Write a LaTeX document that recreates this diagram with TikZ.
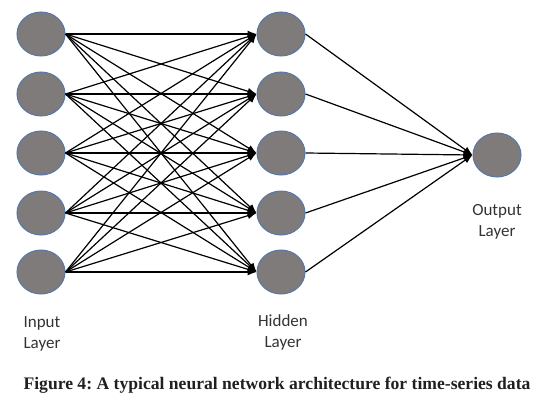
\documentclass[tikz,border=0pt]{standalone}
\usepackage{fontspec}
\setmainfont{Liberation Serif}
\newfontfamily\labelfont{Carlito}
\usetikzlibrary{positioning, shapes.geometric, arrows.meta}
\definecolor{nnFill}{HTML}{7F7B7B}
\definecolor{nnBorder}{HTML}{5677A8}
\definecolor{nnText}{HTML}{333333}
\definecolor{nnCaption}{HTML}{231F20}
\frenchspacing

\begin{document}
\begin{tikzpicture}[x=1pt, y=1pt,
  neuron/.style={ellipse, draw=nnBorder, fill=nnFill, line width=1pt,
                 minimum width=48pt, minimum height=44pt, inner sep=0pt},
  arr/.style={-{Latex[length=9pt, width=7pt]}, line width=1.2pt, draw=black},
  lab/.style={font=\labelfont\fontsize{17}{21}\selectfont, text=nnText, align=center}
]
\useasboundingbox (0,0) rectangle (553,400);

% ===== Input layer =====
\node[neuron] (in1) at (41, 366) {};
\node[neuron] (in2) at (41, 306) {};
\node[neuron] (in3) at (41, 247) {};
\node[neuron] (in4) at (41, 187) {};
\node[neuron] (in5) at (41, 128) {};

% ===== Hidden layer =====
\node[neuron] (hid1) at (281, 366) {};
\node[neuron] (hid2) at (281, 306) {};
\node[neuron] (hid3) at (281, 247) {};
\node[neuron] (hid4) at (281, 187) {};
\node[neuron] (hid5) at (281, 128) {};

% ===== Output layer =====
\node[neuron] (out) at (497, 245) {};

% connections
\foreach \i in {1,...,5}
  \foreach \j in {1,...,5}
    \draw[arr] (in\i.east) -- (hid\j.west);
\foreach \j in {1,...,5}
  \draw[arr] (hid\j.east) -- (out.west);

% layer labels
\node[lab] (inLab)  at (42, 66)   {Input\\Layer};
\node[lab] (hidLab) at (283, 68)  {Hidden\\Layer};
\node[lab] (outLab) at (497, 178) {Output\\Layer};

% caption
\node[font=\bfseries\fontsize{17.6}{20}\selectfont, text=nnCaption] (cap) at (277, 15)
      {Figure 4: A typical neural network architecture for time-series data};

\end{tikzpicture}
\end{document}
